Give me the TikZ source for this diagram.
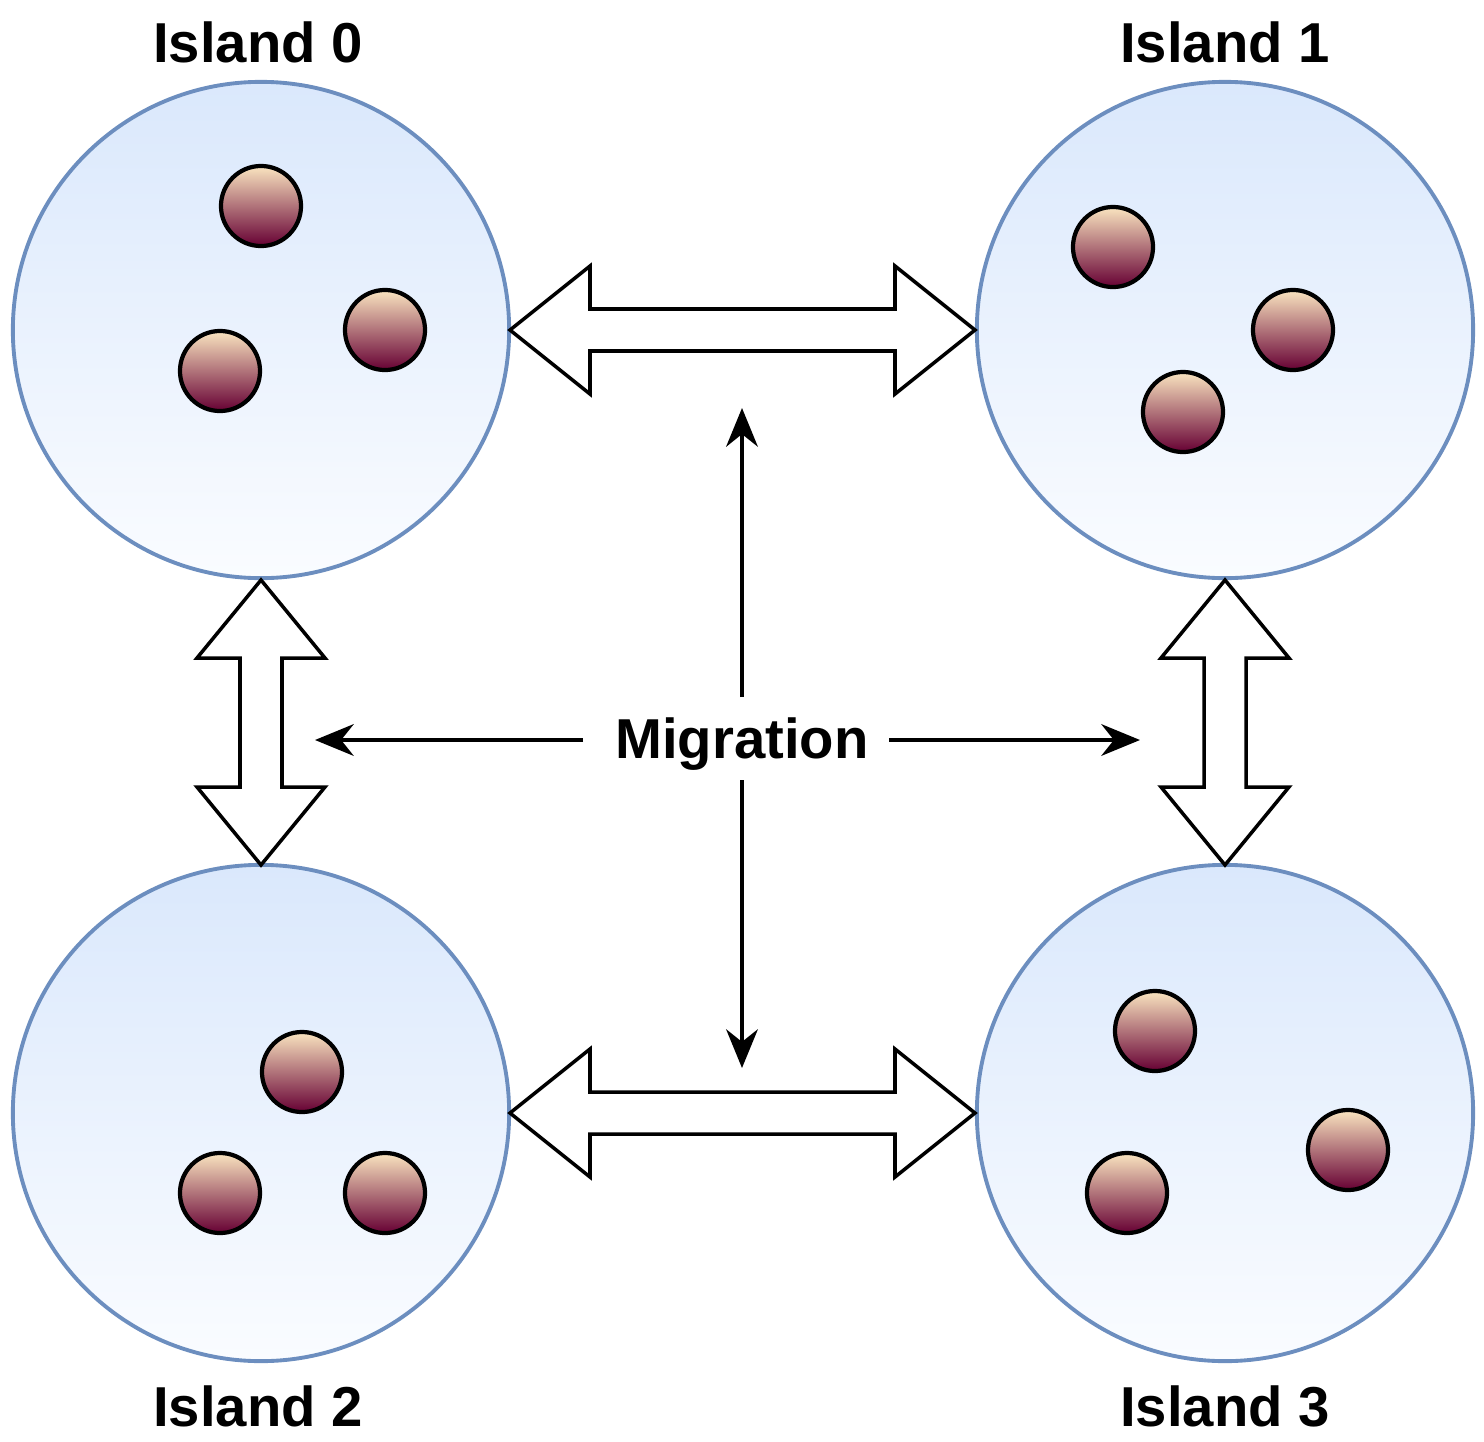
\documentclass[tikz,border=0pt]{standalone}
\usepackage{fontspec}
\setmainfont{Liberation Sans}
\usetikzlibrary{arrows.meta}
\tikzset{font={\fontsize{16pt}{19pt}\selectfont\bfseries},
  island/.style={circle, draw=islandline, line width=1.1pt, minimum size=4.96cm,
    inner sep=0pt, top color=islandtop, bottom color=islandbot},
  ball/.style={circle, draw=black, line width=1.2pt, minimum size=0.8cm,
    inner sep=0pt, top color=balltop, bottom color=ballbot},
  block/.style={draw=black, fill=white, line width=1pt, line join=miter},
  mig/.style={-{Stealth[length=11pt,width=9pt]}, line width=1.1pt}}
\definecolor{islandline}{HTML}{6C8EBF}
\definecolor{islandtop}{HTML}{DAE8FC}
\definecolor{islandbot}{HTML}{FAFCFF}
\definecolor{balltop}{HTML}{FAE5C0}
\definecolor{ballbot}{HTML}{660033}
% horizontal block arrow: x1, x2, y
\newcommand\blockh[3]{\draw[block] (#1,#3) -- (#1+80,#3-64) -- (#1+80,#3-21) -- (#2-80,#3-21)
  -- (#2-80,#3-64) -- (#2,#3) -- (#2-80,#3+64) -- (#2-80,#3+21) -- (#1+80,#3+21)
  -- (#1+80,#3+64) -- cycle;}
% vertical block arrow: x, y1, y2
\newcommand\blockv[3]{\draw[block] (#1,#2) -- (#1+64,#2+78) -- (#1+21,#2+78) -- (#1+21,#3-78)
  -- (#1+64,#3-78) -- (#1,#3) -- (#1-64,#3-78) -- (#1-21,#3-78) -- (#1-21,#2+78)
  -- (#1-64,#2+78) -- cycle;}
\begin{document}
\begin{tikzpicture}[x=0.01cm, y=-0.01cm]
\useasboundingbox (0,0) rectangle (1484,1442);
% islands
\node[island] (i0) at (261,330) {};
\node[island] (i1) at (1225,330) {};
\node[island] (i2) at (261,1113) {};
\node[island] (i3) at (1225,1113) {};
\node (l0) at (258,42) {Island 0};
\node (l1) at (1225,42) {Island 1};
\node (l2) at (258,1406) {Island 2};
\node (l3) at (1225,1406) {Island 3};
% individuals
\foreach \x/\y in {261/206, 385/330, 220/371, 1113/247, 1293/330, 1183/412,
  302/1072, 220/1193, 385/1193, 1155/1031, 1348/1150, 1127/1193}
  \node[ball] at (\x,\y) {};
% block arrows
\blockh{510}{975}{330}
\blockh{510}{975}{1113}
\blockv{261}{580}{865}
\blockv{1225}{580}{865}
% migration
\node[inner sep=0pt] (m) at (742,744) {Migration};
\coordinate (mu) at (742,408);
\coordinate (md) at (742,1068);
\coordinate (ml) at (315,740);
\coordinate (mr) at (1140,740);
\draw[mig] (742,697) -- (mu);
\draw[mig] (742,780) -- (md);
\draw[mig] (583,740) -- (ml);
\draw[mig] (889,740) -- (mr);
\end{tikzpicture}
\end{document}
